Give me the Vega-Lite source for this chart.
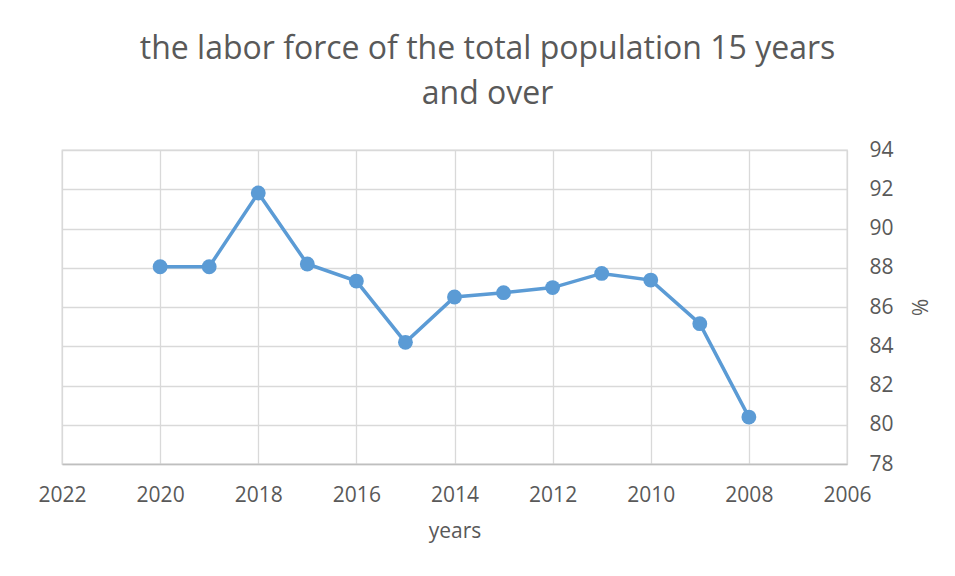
{
  "$schema": "https://vega.github.io/schema/vega-lite/v6.json",
  "width": 785,
  "height": 314,
  "autosize": "none",
  "padding": {"left": 62, "top": 150, "right": 108, "bottom": 112},
  "background": "white",
  "title": {
    "text": ["the labor force of the total population 15 years", "and over"],
    "font": "Open Sans",
    "fontSize": 32,
    "fontWeight": "normal",
    "color": "#595959",
    "lineHeight": 45,
    "anchor": "middle",
    "frame": "group",
    "dx": 33,
    "offset": 28
  },
  "data": {
    "values": [
      {"year": 2020, "value": 88.05},
      {"year": 2019, "value": 88.05},
      {"year": 2018, "value": 91.81},
      {"year": 2017, "value": 88.19},
      {"year": 2016, "value": 87.32},
      {"year": 2015, "value": 84.2},
      {"year": 2014, "value": 86.51},
      {"year": 2013, "value": 86.73},
      {"year": 2012, "value": 86.99},
      {"year": 2011, "value": 87.71},
      {"year": 2010, "value": 87.37},
      {"year": 2009, "value": 85.15},
      {"year": 2008, "value": 80.39}
    ]
  },
  "mark": {
    "type": "line",
    "color": "#5B9BD5",
    "strokeWidth": 3.5,
    "point": {"filled": true, "size": 220, "color": "#5B9BD5", "opacity": 1}
  },
  "encoding": {
    "x": {
      "field": "year",
      "type": "quantitative",
      "scale": {"domain": [2006, 2022], "reverse": true, "nice": false, "zero": false},
      "axis": {
        "title": "years",
        "values": [2006, 2008, 2010, 2012, 2014, 2016, 2018, 2020, 2022],
        "format": "d",
        "labelFlush": false,
        "grid": true,
        "gridColor": "#D9D9D9",
        "gridWidth": 1.3,
        "ticks": false,
        "domain": true,
        "domainColor": "#BFBFBF",
        "domainWidth": 1.3,
        "labelFont": "Open Sans",
        "labelFontSize": 21,
        "labelColor": "#595959",
        "labelPadding": 20,
        "titleFont": "Open Sans",
        "titleFontSize": 21,
        "titleFontWeight": "normal",
        "titleColor": "#595959",
        "titlePadding": 15
      }
    },
    "y": {
      "field": "value",
      "type": "quantitative",
      "scale": {"domain": [78, 94], "nice": false, "zero": false},
      "axis": {
        "orient": "right",
        "title": "%",
        "values": [78, 80, 82, 84, 86, 88, 90, 92, 94],
        "grid": true,
        "gridColor": "#D9D9D9",
        "gridWidth": 1.3,
        "ticks": false,
        "domain": false,
        "labelFlush": false,
        "labelFont": "Open Sans",
        "labelFontSize": 21,
        "labelColor": "#595959",
        "labelPadding": 22,
        "titleFont": "Open Sans",
        "titleFontSize": 21,
        "titleFontWeight": "normal",
        "titleColor": "#595959",
        "titlePadding": 14
      }
    }
  },
  "config": {
    "view": {"stroke": "#D9D9D9", "strokeWidth": 1.3}
  }
}
